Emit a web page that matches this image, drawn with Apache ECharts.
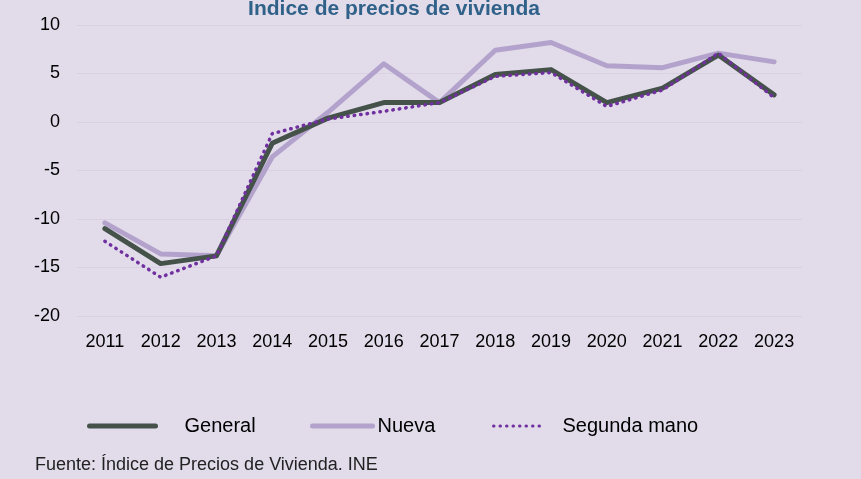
<!DOCTYPE html>
<html>
<head>
<meta charset="utf-8">
<script src="https://cdn.jsdelivr.net/npm/echarts@6/dist/echarts.min.js"></script>
<style>
  html, body { margin: 0; padding: 0; background: #e1dbea; }
  #chart { width: 861px; height: 479px; }
</style>
</head>
<body>
<div id="chart"></div>
<script>
// datos (variación anual, %)
var years = ["2011", "2012", "2013", "2014", "2015", "2016", "2017", "2018", "2019", "2020", "2021", "2022", "2023"];
var general = [-11.0, -14.6, -13.8, -2.2, 0.4, 2.0, 2.0, 4.9, 5.4, 2.0, 3.5, 6.9, 2.8];
var nueva = [-10.4, -13.6, -13.8, -3.6, 1.0, 6.0, 2.0, 7.4, 8.2, 5.8, 5.6, 7.1, 6.2];
var segunda = [-12.3, -16.0, -13.8, -1.2, 0.3, 1.1, 2.0, 4.7, 5.1, 1.6, 3.3, 7.1, 2.5];

var myChart = echarts.init(document.getElementById("chart"));

var font = "Liberation Sans, Arial, sans-serif";
var noSymbol = { color: "rgba(0,0,0,0)", borderWidth: 0, opacity: 0 };

var option = {
  backgroundColor: "#e1dbea",
  animation: false,
  title: {
    text: "Índice de precios de vivienda",
    left: 389,
    top: -6,
    textAlign: "center",
    textStyle: { color: "#2f6189", fontSize: 21, fontWeight: "bold", fontFamily: font }
  },
  grid: { left: 77, right: 59, top: 25, bottom: 163 },
  // tres leyendas para colocar cada elemento como en el original
  legend: [
    {
      data: ["General"], left: 82, top: 411, itemWidth: 66, itemHeight: 14,
      itemStyle: noSymbol, lineStyle: { width: 5 },
      textStyle: { fontSize: 20, color: "#000", fontFamily: font, padding: [0, 0, 0, 24] }
    },
    {
      data: ["Nueva"], left: 305, top: 411, itemWidth: 60, itemHeight: 14,
      itemStyle: noSymbol, lineStyle: { width: 5 },
      textStyle: { fontSize: 20, color: "#000", fontFamily: font }
    },
    {
      data: ["Segunda mano"], left: 487, top: 411, itemWidth: 49, itemHeight: 14,
      itemStyle: noSymbol, lineStyle: { width: 3 },
      textStyle: { fontSize: 20, color: "#000", fontFamily: font, padding: [0, 0, 0, 15] }
    }
  ],
  graphic: [
    {
      type: "text", left: 35, top: 456,
      style: { text: "Fuente: Índice de Precios de Vivienda. INE", fill: "#222", fontSize: 18, fontFamily: font }
    }
  ],
  xAxis: {
    type: "category",
    data: years,
    boundaryGap: true,
    axisLine: { show: false },
    axisTick: { show: false },
    axisLabel: { fontSize: 18, color: "#000", fontFamily: font, margin: 17 }
  },
  yAxis: {
    type: "value",
    min: -20,
    max: 10,
    interval: 5,
    axisLine: { show: false },
    axisTick: { show: false },
    axisLabel: { fontSize: 18, color: "#000", fontFamily: font, margin: 17 },
    splitLine: { lineStyle: { color: "#d9d1e3", width: 1 } }
  },
  series: [
    {
      name: "Nueva", type: "line", data: nueva, symbol: "none", z: 2,
      itemStyle: { color: "#b3a3cc" },
      lineStyle: { color: "#b3a3cc", width: 5, cap: "round", join: "round" }
    },
    {
      name: "General", type: "line", data: general, symbol: "none", z: 3,
      itemStyle: { color: "#45524a" },
      lineStyle: { color: "#45524a", width: 5, cap: "round", join: "round" }
    },
    {
      name: "Segunda mano", type: "line", data: segunda, symbol: "none", z: 4,
      itemStyle: { color: "#7030a0" },
      lineStyle: { color: "#7030a0", width: 3.5, type: [0.5, 6], cap: "round" }
    }
  ]
};

myChart.setOption(option);
window.addEventListener("resize", function () {
  myChart.resize();
});
</script>
</body>
</html>
